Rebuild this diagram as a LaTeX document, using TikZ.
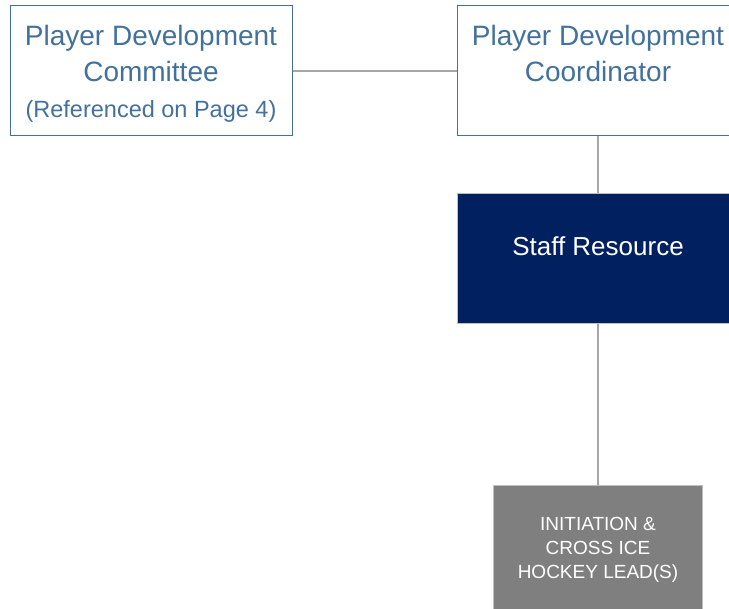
\documentclass[tikz,border=0pt]{standalone}
\usepackage{fontspec}
\setmainfont{Liberation Sans}
\usetikzlibrary{positioning}
\definecolor{pdblue}{HTML}{41719C}
\definecolor{navyfill}{HTML}{002060}
\definecolor{leadgray}{HTML}{7F7F7F}
\definecolor{linegray}{HTML}{A6A6A6}
\definecolor{edgegray}{HTML}{BFBFBF}

\begin{document}
\begin{tikzpicture}[
    x=1pt, y=1pt,
    roleblue/.style={rectangle, draw=pdblue, line width=1pt, text=pdblue, fill=white, minimum width=282pt, minimum height=130pt, align=center, inner sep=0pt, font=\fontsize{28}{36}\selectfont},
    staffbox/.style={rectangle, draw=edgegray, line width=1pt, fill=navyfill, text=white, minimum width=282pt, minimum height=130pt, align=center, inner sep=0pt, font=\fontsize{26}{30}\selectfont},
    leadbox/.style={rectangle, draw=edgegray, line width=1pt, fill=leadgray, text=white, minimum width=209pt, minimum height=128pt, align=center, inner sep=0pt, font=\fontsize{19}{24}\selectfont},
    link/.style={draw=linegray, line width=2.5pt}
]
\useasboundingbox (0,0) rectangle (729,-609);

% Row 1: Committee and Coordinator
\node[roleblue, text depth=0pt] (committee) at (151,-71) {Player Development\\Committee\\{\fontsize{23.5}{38}\selectfont (Referenced on Page 4)}};
\node[roleblue, text depth=0pt, right=164pt of committee] (coordinator) {Player Development\\Coordinator\\{\fontsize{23.5}{38}\selectfont\phantom{(Referenced on Page 4)}}};

% Row 2: Staff
\node[staffbox, below=57pt of coordinator, text height=19pt, text depth=25pt] (staff) {Staff Resource};

% Row 3: Lead
\node[leadbox, below=161pt of staff] (lead) {INITIATION \&\\CROSS ICE\\HOCKEY LEAD(S)};

% Links
\draw[link] (committee) -- (coordinator);
\draw[link] (coordinator) -- (staff);
\draw[link] (staff) -- (lead);

\end{tikzpicture}
\end{document}
